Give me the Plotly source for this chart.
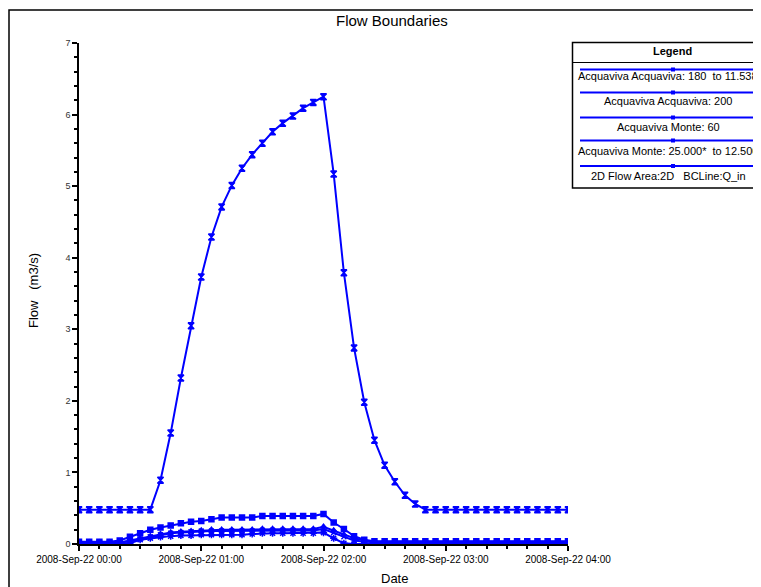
import plotly.graph_objects as go
import pandas as pd

times = pd.date_range("2008-09-22 00:00", "2008-09-22 04:00", freq="5min")

monte_25 = [0.48, 0.48, 0.48, 0.48, 0.48, 0.48, 0.48, 0.48, 0.89, 1.55,
            2.32, 3.05, 3.73, 4.29, 4.71, 5.01, 5.25, 5.44, 5.60, 5.76,
            5.88, 5.98, 6.09, 6.17, 6.25, 5.17, 3.79, 2.74, 1.98, 1.45,
            1.10, 0.87, 0.68, 0.56, 0.48, 0.48, 0.48, 0.48, 0.48, 0.48,
            0.48, 0.48, 0.48, 0.48, 0.48, 0.48, 0.48, 0.48, 0.48]
acq_180 = [0.03, 0.03, 0.03, 0.03, 0.05, 0.10, 0.15, 0.20, 0.23, 0.26,
           0.29, 0.31, 0.32, 0.345, 0.37, 0.37, 0.37, 0.37, 0.39, 0.39,
           0.39, 0.39, 0.39, 0.39, 0.42, 0.30, 0.21, 0.11, 0.06, 0.04,
           0.04, 0.04, 0.04, 0.04, 0.04, 0.04, 0.04, 0.04, 0.04, 0.04,
           0.04, 0.04, 0.04, 0.04, 0.04, 0.04, 0.04, 0.04, 0.04]
acq_200 = [0.02, 0.02, 0.02, 0.02, 0.02, 0.05, 0.08, 0.11, 0.14, 0.16,
           0.17, 0.18, 0.19, 0.20, 0.20, 0.20, 0.20, 0.20, 0.21, 0.21,
           0.21, 0.21, 0.21, 0.21, 0.24, 0.19, 0.13, 0.08, 0.05, 0.03,
           0.03, 0.03, 0.03, 0.03, 0.03, 0.03, 0.03, 0.03, 0.03, 0.03,
           0.03, 0.03, 0.03, 0.03, 0.03, 0.03, 0.03, 0.03, 0.03]
monte_60 = [0.02, 0.02, 0.02, 0.02, 0.02, 0.04, 0.07, 0.10, 0.13, 0.15,
            0.16, 0.17, 0.18, 0.18, 0.18, 0.18, 0.18, 0.18, 0.19, 0.19,
            0.19, 0.19, 0.19, 0.19, 0.21, 0.16, 0.10, 0.05, 0.03, 0.02,
            0.02, 0.02, 0.02, 0.02, 0.02, 0.02, 0.02, 0.02, 0.02, 0.02,
            0.02, 0.02, 0.02, 0.02, 0.02, 0.02, 0.02, 0.02, 0.02]
bcline_qin = [0.01, 0.01, 0.01, 0.01, 0.01, 0.01, 0.06, 0.08, 0.10, 0.11,
              0.12, 0.12, 0.13, 0.13, 0.13, 0.13, 0.13, 0.14, 0.15, 0.15,
              0.15, 0.15, 0.15, 0.15, 0.16, 0.08, 0.01, 0.0, 0.0, 0.0,
              0.0, 0.0, 0.0, 0.0, 0.0, 0.0, 0.0, 0.0, 0.0, 0.0,
              0.0, 0.0, 0.0, 0.0, 0.0, 0.0, 0.0, 0.0, 0.0]

series_names = ["Acquaviva Acquaviva: 180  to 11.538",
                "Acquaviva Acquaviva: 200",
                "Acquaviva Monte: 60",
                "Acquaviva Monte: 25.000*  to 12.500",
                "2D Flow Area:2D   BCLine:Q_in"]

x_tick_vals = ["2008-09-22 00:00", "2008-09-22 01:00", "2008-09-22 02:00",
               "2008-09-22 03:00", "2008-09-22 04:00"]
x_tick_text = ["2008-Sep-22 00:00", "2008-Sep-22 01:00", "2008-Sep-22 02:00",
               "2008-Sep-22 03:00", "2008-Sep-22 04:00"]

BLUE = "#0000FF"
FONT = "Liberation Sans, Arial, sans-serif"

fig = go.Figure()
traces = [
    (acq_180, "square", 5),
    (acq_200, "triangle-up", 5),
    (monte_60, "x-thin-open", 5),
    (monte_25, "hourglass", 6),
    (bcline_qin, "asterisk-open", 6),
]
for (vals, sym, sz), name in zip(traces, series_names):
    fig.add_trace(go.Scatter(
        x=times, y=vals, name=name, mode="lines+markers",
        line=dict(color=BLUE, width=2),
        marker=dict(symbol=sym, size=sz, color=BLUE, line=dict(color=BLUE, width=1.5)),
        showlegend=False))

# page has an 8px body margin; work in window pixels and shift
OFF = 8
W, H = 761 - OFF, 587 - OFF
L, R, T, B = 79, 568, 43, 544          # window pixel coords of plot area
pw, ph = R - L, B - T

def px(xp):
    return (xp - L) / pw

def py(yp):
    return (B - yp) / ph

shapes = []
annotations = []
# outer frame
shapes.append(dict(type="rect", xref="paper", yref="paper",
                   x0=px(9), x1=px(790), y0=py(610), y1=py(10),
                   line=dict(color="black", width=1.5), layer="below"))
# legend box
lx0, lx1, ly0, ly1 = 572.5, 800, 42.5, 188
shapes.append(dict(type="rect", xref="paper", yref="paper",
                   x0=px(lx0), x1=px(lx1), y0=py(ly1), y1=py(ly0),
                   line=dict(color="black", width=1.5), fillcolor="white"))
shapes.append(dict(type="line", xref="paper", yref="paper",
                   x0=px(lx0), x1=px(lx1), y0=py(62.5), y1=py(62.5),
                   line=dict(color="black", width=1)))

def label(text, x, y, size, angle=0, bold=False):
    annotations.append(dict(text=f"<b>{text}</b>" if bold else text,
                            xref="paper", yref="paper",
                            x=px(x), y=py(y), showarrow=False,
                            xanchor="center", yanchor="middle", textangle=angle,
                            font=dict(family=FONT, size=size, color="black")))

label("Legend", 672, 51, 11, bold=True)
line_ys = [69.5, 92.5, 117.5, 140.5, 166]
text_ys = [76, 101, 127, 151, 176]
for name, ly, ty in zip(series_names, line_ys, text_ys):
    shapes.append(dict(type="line", xref="paper", yref="paper",
                       x0=px(580), x1=px(790), y0=py(ly), y1=py(ly),
                       line=dict(color=BLUE, width=2)))
    shapes.append(dict(type="rect", xref="paper", yref="paper",
                       x0=px(671), x1=px(675), y0=py(ly + 2), y1=py(ly - 2),
                       line=dict(width=0), fillcolor=BLUE))
    label(name, 668, ty, 11)

label("Flow Boundaries", 392, 21, 15)
label("Date", 394, 578, 13)
label("Flow   (m3/s)", 33, 291, 13, angle=-90)

fig.update_layout(
    width=W, height=H,
    margin=dict(l=L - OFF, r=W - (R - OFF), t=T - OFF, b=H - (B - OFF), pad=0),
    paper_bgcolor="white", plot_bgcolor="white",
    shapes=shapes, annotations=annotations,
    font=dict(family=FONT, size=9, color="black"),
    xaxis=dict(range=["2008-09-22 00:00", "2008-09-22 04:00"],
               tickvals=x_tick_vals, ticktext=x_tick_text,
               showgrid=False, zeroline=False, showline=True,
               linecolor="black", linewidth=1.5,
               ticks="outside", ticklen=5, tickcolor="black", tickwidth=1.5,
               minor=dict(dtick=600000, ticks="outside", ticklen=3,
                          tickcolor="black", tickwidth=1.5, showgrid=False),
               tickfont=dict(family=FONT, size=10, color="black")),
    yaxis=dict(range=[0, 7], dtick=1, tick0=0,
               showgrid=False, zeroline=False, showline=True,
               linecolor="black", linewidth=1.5,
               ticks="outside", ticklen=5, tickcolor="black", tickwidth=1.5,
               minor=dict(dtick=0.2, ticks="outside", ticklen=3,
                          tickcolor="black", tickwidth=1.5, showgrid=False),
               tickfont=dict(family=FONT, size=9, color="#333333")),
)

fig.write_html("out.html")
